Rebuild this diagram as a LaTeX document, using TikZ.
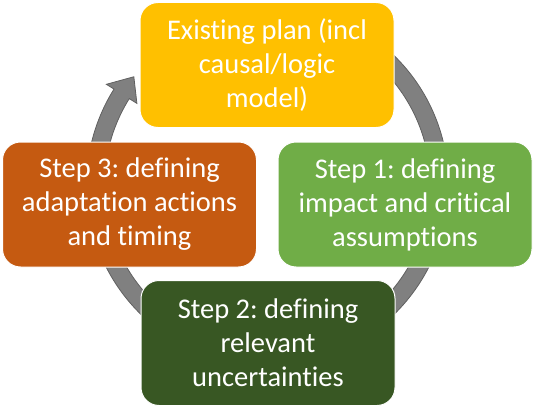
\documentclass[tikz,border=0pt]{standalone}
\usepackage{fontspec}
\setmainfont{Carlito}[Ligatures=NoCommon]
\frenchspacing
\definecolor{planyellow}{HTML}{FFC000}
\definecolor{steporange}{HTML}{C55A11}
\definecolor{stepgreen}{HTML}{70AD47}
\definecolor{stepdarkgreen}{HTML}{385723}
\definecolor{cyclegray}{HTML}{808080}
\definecolor{cycleedge}{HTML}{606060}
\begin{document}
\begin{tikzpicture}
        [x=1pt, y=1pt,
         box_style/.style={rectangle,rounded corners=18pt,draw=white,line width=1pt,
                           minimum width=254pt,minimum height=125pt,align=center,
                           text=white,font=\fontsize{28.5}{34}\selectfont},
         box_plan/.style={box_style,fill=planyellow},
         box_step1/.style={box_style,fill=stepgreen},
         box_step2/.style={box_style,fill=stepdarkgreen},
         box_step3/.style={box_style,fill=steporange},
         cycle_style/.style={fill=cyclegray,draw=cycleedge,line width=0.8pt}]
            \useasboundingbox (0,0) rectangle (536,408);
            \coordinate (hub) at (267.5, 223);
            % gray cycle arrow, behind the boxes
            \filldraw[cycle_style, shift={(hub)}]
                (50:181) arc[start angle=50, end angle=-212, radius=181]
                -- (-212:190) -- (-219:172) -- (-212:154) -- (-212:163)
                arc[start angle=-212, end angle=50, radius=163] -- cycle;
            \node[box_plan] (plan) at (267, 343) {Existing plan (incl\\causal/logic\\model)};
            \node[box_step1] (step1) at (405, 203.5) {Step 1: defining\\impact and critical\\assumptions};
            \node[box_step2] (step2) at (268, 65) {Step 2: defining\\relevant\\uncertainties};
            \node[box_step3] (step3) at (129.5, 203.5) {Step 3: defining\\adaptation actions\\and timing};
        \end{tikzpicture}
\end{document}
